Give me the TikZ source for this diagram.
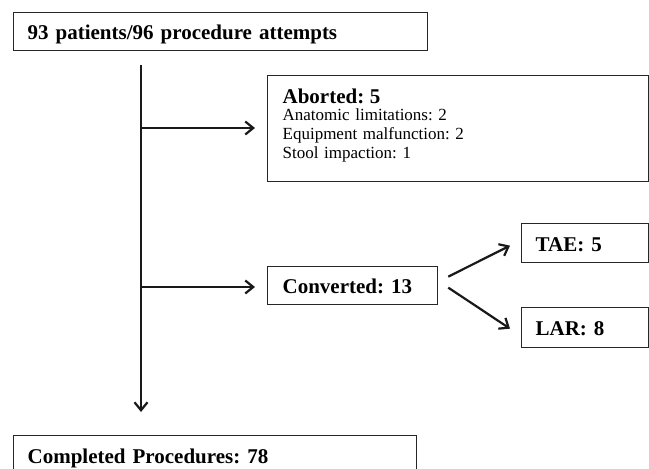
\documentclass[tikz,border=0pt]{standalone}
\usepackage{fontspec}
\setmainfont{Liberation Serif}
\usetikzlibrary{arrows.meta,calc}
\frenchspacing

\tikzset{
  box/.style={draw=black!85, line width=1.3pt, anchor=north west,
    inner xsep=14pt, inner ysep=0pt, align=left,
    font=\fontsize{17}{19}\selectfont\frenchspacing},
  head/.style={font=\fontsize{21}{21}\selectfont\bfseries\frenchspacing},
  flow/.style={line width=2.2pt, draw=black!90,
    -{Straight Barb[length=8pt,width=13pt]}},
}

\begin{document}
\begin{tikzpicture}[x=1pt,y=-1pt]
  \clip (0,0) rectangle (649,469);
  \fill[white] (0,0) rectangle (649,469);

  % boxes
  \node[box, head, text width=386pt, text height=27pt, text depth=11pt]
    (start) at (13,12) {93 patients/96 procedure attempts};
  \node[box, inner xsep=15pt, text width=351pt, text height=28pt, text depth=78pt]
    (abort) at (267,75)
    {{\fontsize{21}{21}\selectfont\bfseries Aborted: 5}\\[-2.2pt]
     Anatomic limitations: 2\\
     Equipment malfunction: 2\\
     Stool impaction: 1};
  \node[box, head, inner xsep=15pt, text width=140pt, text height=27pt, text depth=11pt]
    (conv) at (267,266) {Converted: 13};
  \node[box, head, text width=99pt, text height=28pt, text depth=11pt]
    (tae) at (521,223) {TAE: 5};
  \node[box, head, text width=99pt, text height=28pt, text depth=12pt]
    (lar) at (521,307) {LAR: 8};
  \node[box, head, text width=375pt, text height=28pt, text depth=14pt]
    (done) at (13,435) {Completed Procedures: 78};

  % main trunk with its two branches
  \coordinate (trunkTop) at (141,65);
  \coordinate (branchA) at (141,128);
  \coordinate (branchC) at (141,287);
  \coordinate (trunkEnd) at ($(done.north west)+(128,-23)$);

  \draw[flow] (trunkTop) -- (trunkEnd);
  \draw[flow, shorten >=12pt] (branchA) -- (branchA -| abort.west);
  \draw[flow, shorten >=12pt] (branchC) -- (branchC -| conv.west);

  % split of the converted cases
  \draw[flow] ($(conv.east)+(10,-9)$) -- ($(tae.west)+(-11,2.5)$);
  \draw[flow] ($(conv.east)+(10,2)$) -- ($(lar.west)+(-11,1)$);
\end{tikzpicture}
\end{document}
